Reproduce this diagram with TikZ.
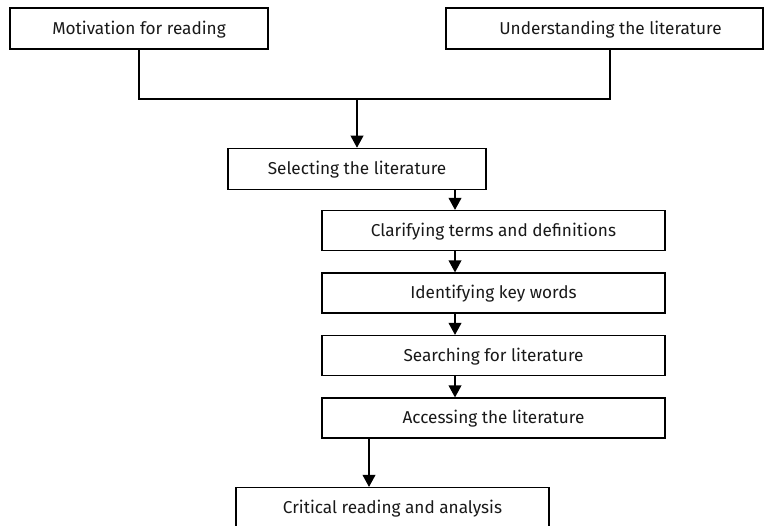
\documentclass[tikz,border=0pt]{standalone}
\usepackage{fontspec}
\setmainfont{Fira Sans}
\usetikzlibrary{arrows.meta}
\begin{document}
\begin{tikzpicture}[x=0.5pt,y=-0.5pt,
  box/.style={draw=black, line width=0.6pt, fill=white, inner sep=0pt,
    font=\fontsize{8.6}{10}\selectfont, text=black!90, text depth=1.2pt},
  link/.style={draw=black, line width=0.6pt},
  arr/.style={link, -{Triangle[length=6pt,width=6.4pt]}}]
\useasboundingbox (0,0) rectangle (764,525);
\clip (0,0) rectangle (764,525);
% top row
\node[box, minimum width=129pt, minimum height=20.5pt] (mot) at (139,28.5) {Motivation for reading};
\node[box, minimum width=158.5pt, minimum height=20.5pt] (und) at (604.5,28.5) {\hspace*{6pt}Understanding the literature};
% main column
\node[box, minimum width=129pt, minimum height=20.5pt] (sel) at (357,168.8) {Selecting the literature};
\node[box, minimum width=171.5pt, minimum height=20pt] (cla) at (493.5,230.5) {Clarifying terms and definitions};
\node[box, minimum width=171.5pt, minimum height=20pt] (ide) at (493.5,293) {Identifying key words};
\node[box, minimum width=171.5pt, minimum height=20pt] (sea) at (493.5,355.5) {Searching for literature};
\node[box, minimum width=171.5pt, minimum height=20pt] (acc) at (493.5,418) {Accessing the literature};
\node[box, minimum width=156.5pt, minimum height=20pt] (cri) at (392.5,507.5) {Critical reading and analysis};
% guide coordinates
\coordinate (j) at (357,99);
\coordinate (ax) at (455,0);
\coordinate (bx) at (369,0);
% connectors
\draw[link] (mot.south) |- (j) -| (und.south -| 610,0);
\draw[arr] (j) -- (sel.north);
\draw[arr] (sel.south -| ax) -- (cla.north -| ax);
\draw[arr] (cla.south -| ax) -- (ide.north -| ax);
\draw[arr] (ide.south -| ax) -- (sea.north -| ax);
\draw[arr] (sea.south -| ax) -- (acc.north -| ax);
\draw[arr] (acc.south -| bx) -- (cri.north -| bx);
\end{tikzpicture}
\end{document}
